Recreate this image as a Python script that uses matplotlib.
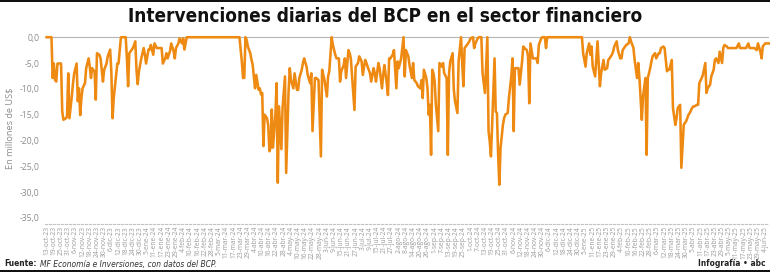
import datetime as dt
import matplotlib
matplotlib.use("Agg")
import matplotlib.pyplot as plt
from matplotlib.patches import Rectangle
from matplotlib import font_manager as fm

# ---------------- data ----------------
fecha_inicio = dt.date(2023, 10, 13)
meses = ["ene", "feb", "mar", "abr", "may", "jun", "jul", "ago", "sep", "oct", "nov", "dic"]

# days since 13-oct-2023
dia = [0, 4, 5, 6, 7, 8, 9, 12, 13, 14, 16, 17, 18, 19, 21, 22, 23, 25, 26, 27, 28, 29, 30, 32, 33, 35, 36, 37, 38, 40,
       41, 42, 44, 45, 47, 48, 50, 51, 53, 54, 55, 56, 58, 59, 60, 62, 66, 67, 68, 69, 72, 74, 75, 76, 77, 79, 81, 82, 83,
       85, 86, 87, 89, 90, 92, 96, 97, 99, 100, 101, 103, 104, 106, 107, 108, 110, 111, 113, 114, 115, 117, 161, 163, 164,
       165, 166, 167, 168, 170, 171, 172, 174, 175, 177, 178, 179, 180, 181, 182, 184, 185, 186, 187, 188, 189, 191, 192,
       193, 194, 196, 197, 199, 200, 202, 203,
       204, 206, 207, 209, 210, 211, 213, 214, 215, 217, 218, 220, 221, 222, 224, 225, 227, 229, 230, 232, 234, 235, 236,
       238, 239, 241, 242, 244, 245, 246, 248, 249, 250, 252, 253, 254, 257, 258, 260, 261, 263, 264, 266, 267, 268, 270,
       271, 273, 274, 275, 277, 278, 280, 281, 282, 284, 285, 286, 287, 289, 290, 292, 293, 294, 296, 297, 298, 299, 300,
       302, 303, 305, 306, 307, 309, 310, 312, 313, 314, 315, 317, 318, 319, 320, 321, 322, 323, 324, 325, 327, 328, 330,
       331, 332, 334, 335, 336, 337, 339, 340, 341, 343, 344, 346, 347, 348, 349, 351, 353, 354, 356, 357, 358, 360, 361,
       363, 364, 365, 366, 368, 369, 370, 371, 372, 374, 375, 376, 377, 378, 379, 381, 382, 383, 385, 386, 388, 389, 390,
       391, 392, 394, 395, 397, 398, 399, 401, 402, 403,
       404, 406, 408, 409, 410, 411, 413, 414, 416, 417, 418, 447, 448, 449, 450, 451, 453, 454, 455, 456, 458, 460, 462,
       463, 465, 466, 468, 469, 470, 472, 473, 474, 476, 477, 479, 480, 481, 483, 484, 486, 487, 488, 490, 491, 493, 494,
       495, 497, 498, 500, 501, 502, 504, 505, 506, 508, 509, 511, 512, 513, 515, 516, 518, 519, 520, 522, 523, 525, 526,
       527, 529, 530, 532, 533, 534, 536, 537, 539, 540, 541, 543, 544, 545, 547, 548, 550, 551, 552, 554, 555, 557, 558,
       559, 561, 562, 564, 565, 566, 568, 569, 576, 578, 579, 584, 586, 587, 591, 593, 594, 596, 597, 598, 600, 603]

# millions of US$
monto = [0, 0, -7.9, -5.1, -8.3, -8.6, -5.1, -5.1, -14.4, -16.0, -15.7, -15.4, -7.0, -15.7, -11.4, -8.9, -7.0, -5.1,
         -12.4, -9.9, -15.1, -11.8, -9.9, -8.9, -6.0, -4.1, -5.7, -7.9, -6.0, -6.7,
         -12.1, -3.1, -3.4, -4.1, -8.6, -6.3, -5.1, -3.7, -2.4, -6.7, -15.7, -11.8, -7.3, -5.1, -5.1, 0, 0, -4.1, -9.5,
         -3.1, -2.1, -0.8, -6.3, -9.1, -6.7, -4.1, -2.1, -3.4, -5.1,
         -2.4, -2.4, -1.5, -3.4, -1.2, -2.1, -2.1, -5.1, -4.1, -3.1, -4.1, -2.7, -1.2, -2.7, -4.1, -2.1, -1.2, -0.2, -1.2,
         -0.2, -2.4, 0, 0, -4.8, -7.9,
         -7.9, 0, -0.5, -1.8, -3.1, -4.3, -5.3, -9.9, -7.3, -10.2, -9.9, -11.1, -10.8, -21.1, -15.0, -15.7, -17.0, -22.1,
         -21.4, -14.0, -21.4, -15.0, -8.9,
         -28.2, -13.4, -21.7, -13.7, -7.6, -26.3, -10.5, -6.0,
         -8.3, -9.9, -7.0, -10.2, -10.2, -7.9, -6.3, -5.0, -4.1, -5.7, -7.3, -8.9, -7.0, -18.2, -7.9, -7.9, -8.3, -23.1,
         -6.3, -8.3, -11.5, -7.6, -6.6,
         0, -1.5, -3.4, -4.1, -4.1, -8.6, -6.6, -5.4, -4.1, -7.9, -2.5, -3.1, -4.1, -14.1, -5.7, -5.0, -3.7, -4.7, -7.3,
         -4.4, -5.0, -5.7, -7.0,
         -8.6, -6.0, -7.0, -8.6, -5.0, -6.0, -9.9, -7.3, -5.4, -8.9, -11.2, -4.1, -4.1, -3.4, -2.5, -9.9, -4.7, -6.0, -4.1,
         -2.1, 0, -7.6, -2.5,
         -3.7, -5.4, -7.9, -5.0, -8.3, -8.9, -9.5, -9.9, -8.3, -11.8, -6.3, -7.9, -9.9, -15.0, -13.1, -22.8, -6.3, -7.0,
         -8.6, -13.1, -18.2, -5.0, -5.7,
         -5.0, -7.0, -7.9, -22.8, -7.0, -4.7, -3.1, -10.2, -12.4, -14.7, -4.7, 0, -5.0, -9.5, -2.1, -1.5, -0.8, -0.2, 0,
         -2.1, -1.2, -0.2, 0,
         0, -7.0, -8.9, -10.8, 0, -18.2, -20.2, -23.1, -17.0, -4.1, -14.4, -14.7, -22.8, -28.6, -21.5, -17.0, -15.7, -15.0,
         -14.7, -11.8, -7.6, -4.1, -18.2,
         -6.0, -6.0, -6.0, -9.2, -4.7, -1.8, -2.1, -2.5, -3.7, -12.8,
         -1.2, -4.1, -4.1, -4.1, -5.0, -1.5, -0.2, 0, 0, -2.1, 0, 0, -3.1, -4.4, -5.7, -3.1, -1.2, -3.4, -1.8, -5.7, -7.6,
         -0.8, -9.5,
         -7.0, -4.4, -6.3, -6.0, -4.4, -4.1, -3.4, -2.8, -1.8, -0.8, -2.5, -4.1, -4.1, -2.5, -1.8, -1.5, -1.2, 0, -0.8,
         -2.1, -4.4, -7.9, -5.0,
         -7.9, -16.0, -11.5, -7.9, -22.8, -7.9, -6.0, -4.7, -3.7, -3.1, -4.1, -3.1, -3.1, -2.1, -1.8, -2.1, -6.6, -6.3,
         -6.3, -4.4, -13.7, -17.0, -15.7,
         -13.7, -13.1, -25.3, -17.0, -16.6, -16.3, -15.0, -14.7, -13.7, -13.4, -13.4, -13.1, -13.1, -8.9, -7.9, -7.3,
         -5.0, -10.8, -9.9, -9.2, -7.6, -6.3, -4.4,
         -4.1, -5.0, -2.8, -5.0, -2.1, -1.5, -1.8, -2.1, -2.1, -1.2, -2.1, -2.1, -1.2, -2.1, -2.1, -2.5, -1.2, -2.8, -4.1,
         -1.8, -1.2, -1.2]

y_ticks = [0, -5, -10, -15, -20, -25, -30, -35]
paso_etiquetas = 6       # days between x labels
ultimo_dia_etiqueta = 600

title = "Intervenciones diarias del BCP en el sector financiero"
ylabel = "En millones de US$"
fuente_label = "Fuente:"
fuente_texto = "MF Economía e Inversiones, con datos del BCP."
credito = "Infografía • abc"


# ---------------- fonts ----------------
def find_font(keys, fallback_family, weight="normal", style="normal"):
    files = [f.fname for f in fm.fontManager.ttflist]
    for k in keys:
        for fn in files:
            if fn.split("/")[-1].lower().replace("_", "").replace(" ", "") == k.lower():
                return fm.FontProperties(fname=fn)
    return fm.FontProperties(family=fallback_family, weight=weight, style=style)


title_fp = find_font(["LiberationSansNarrow-Bold.ttf", "DejaVuSansCondensed-Bold.ttf", "RobotoCondensed-Bold.ttf",
                      "OpenSansCondensed-Bold.ttf", "NotoSans-CondensedBold.ttf", "Roboto-CondensedBold.ttf"],
                     ["DejaVu Sans"], weight="bold")
foot_b_fp = find_font(["LiberationSansNarrow-Bold.ttf", "DejaVuSansCondensed-Bold.ttf", "RobotoCondensed-Bold.ttf",
                       "NotoSans-CondensedBold.ttf"], ["DejaVu Sans"], weight="bold")
foot_i_fp = find_font(["LiberationSansNarrow-Italic.ttf", "DejaVuSansCondensed-Oblique.ttf",
                       "RobotoCondensed-Italic.ttf", "NotoSans-CondensedItalic.ttf"], ["DejaVu Sans"], style="italic")

# ---------------- figure ----------------
W, H = 770, 272
fig = plt.figure(figsize=(W / 100, H / 100), dpi=100)
fig.patch.set_facecolor("white")

ax = fig.add_axes([45 / W, (H - 224) / H, 724 / W, 194 / H])
ax.plot(dia, monto, color="#EE8A12", lw=1.85, solid_joinstyle="round", zorder=3, clip_on=False)
ax.axhline(0, color="#b5b5b5", lw=0.8, zorder=1)

ax.set_xlim(-1.4, 603.2)
ax.set_ylim(-36.2, 1.4)

for s in ["top", "right", "left"]:
    ax.spines[s].set_visible(False)
ax.spines["bottom"].set_color("#c4c4c4")
ax.spines["bottom"].set_linewidth(0.8)
ax.spines["bottom"].set_linestyle((0, (2.0, 1.6)))

ax.set_yticks(y_ticks)
ax.set_yticklabels([f"{v:.1f}".replace(".", ",") for v in y_ticks],
                   fontsize=6.2, color="#8c8c8c", family=["Open Sans", "DejaVu Sans"])
ax.tick_params(axis="y", length=0, pad=4)

xt = list(range(0, ultimo_dia_etiqueta + 1, paso_etiquetas))
labs = []
for t in xt:
    d = fecha_inicio + dt.timedelta(days=t)
    labs.append(f"{d.day}-{meses[d.month - 1]}-{d.year % 100:02d}")
ax.set_xticks(xt)
ax.set_xticklabels(labs, rotation=90, fontsize=4.8, color="#9a9a9a",
                   family=["Open Sans", "DejaVu Sans"], va="top", ha="center")
ax.tick_params(axis="x", length=0, pad=1.5)

fig.text(10 / W, 1 - 128 / H, ylabel, rotation=90, ha="center", va="center",
         fontsize=6.6, color="#8c8c8c", family=["Open Sans", "DejaVu Sans"])

renderer = fig.canvas.get_renderer()


def fit_width(txt, target_px):
    w = txt.get_window_extent(renderer).width
    txt.set_fontsize(txt.get_fontsize() * target_px / w)


t_title = fig.text(0.5, 1 - 16.5 / H, title, ha="center", va="center",
                   color="#111111", fontproperties=title_fp)
t_title.set_fontsize(16)
fit_width(t_title, 516)

# footer
fs_foot = 6.0
t_f1 = fig.text(4 / W, 1 - 264 / H, fuente_label, ha="left", va="center",
                color="#222222", fontproperties=foot_b_fp)
t_f1.set_fontsize(fs_foot)
x2 = 4 + t_f1.get_window_extent(renderer).width + 3
t_f2 = fig.text(x2 / W, 1 - 264 / H, fuente_texto, ha="left", va="center",
                color="#333333", fontproperties=foot_i_fp)
t_f2.set_fontsize(fs_foot)
t_f3 = fig.text(765 / W, 1 - 264 / H, credito, ha="right", va="center",
                color="#222222", fontproperties=foot_b_fp)
t_f3.set_fontsize(fs_foot)

# top and bottom rules
fig.add_artist(Rectangle((0, 1 - 2 / H), 1, 2 / H, transform=fig.transFigure, color="#111111", lw=0))
fig.add_artist(Rectangle((0, 0), 1, 2 / H, transform=fig.transFigure, color="#111111", lw=0))

fig.savefig("out.png", dpi=100, facecolor="white")
